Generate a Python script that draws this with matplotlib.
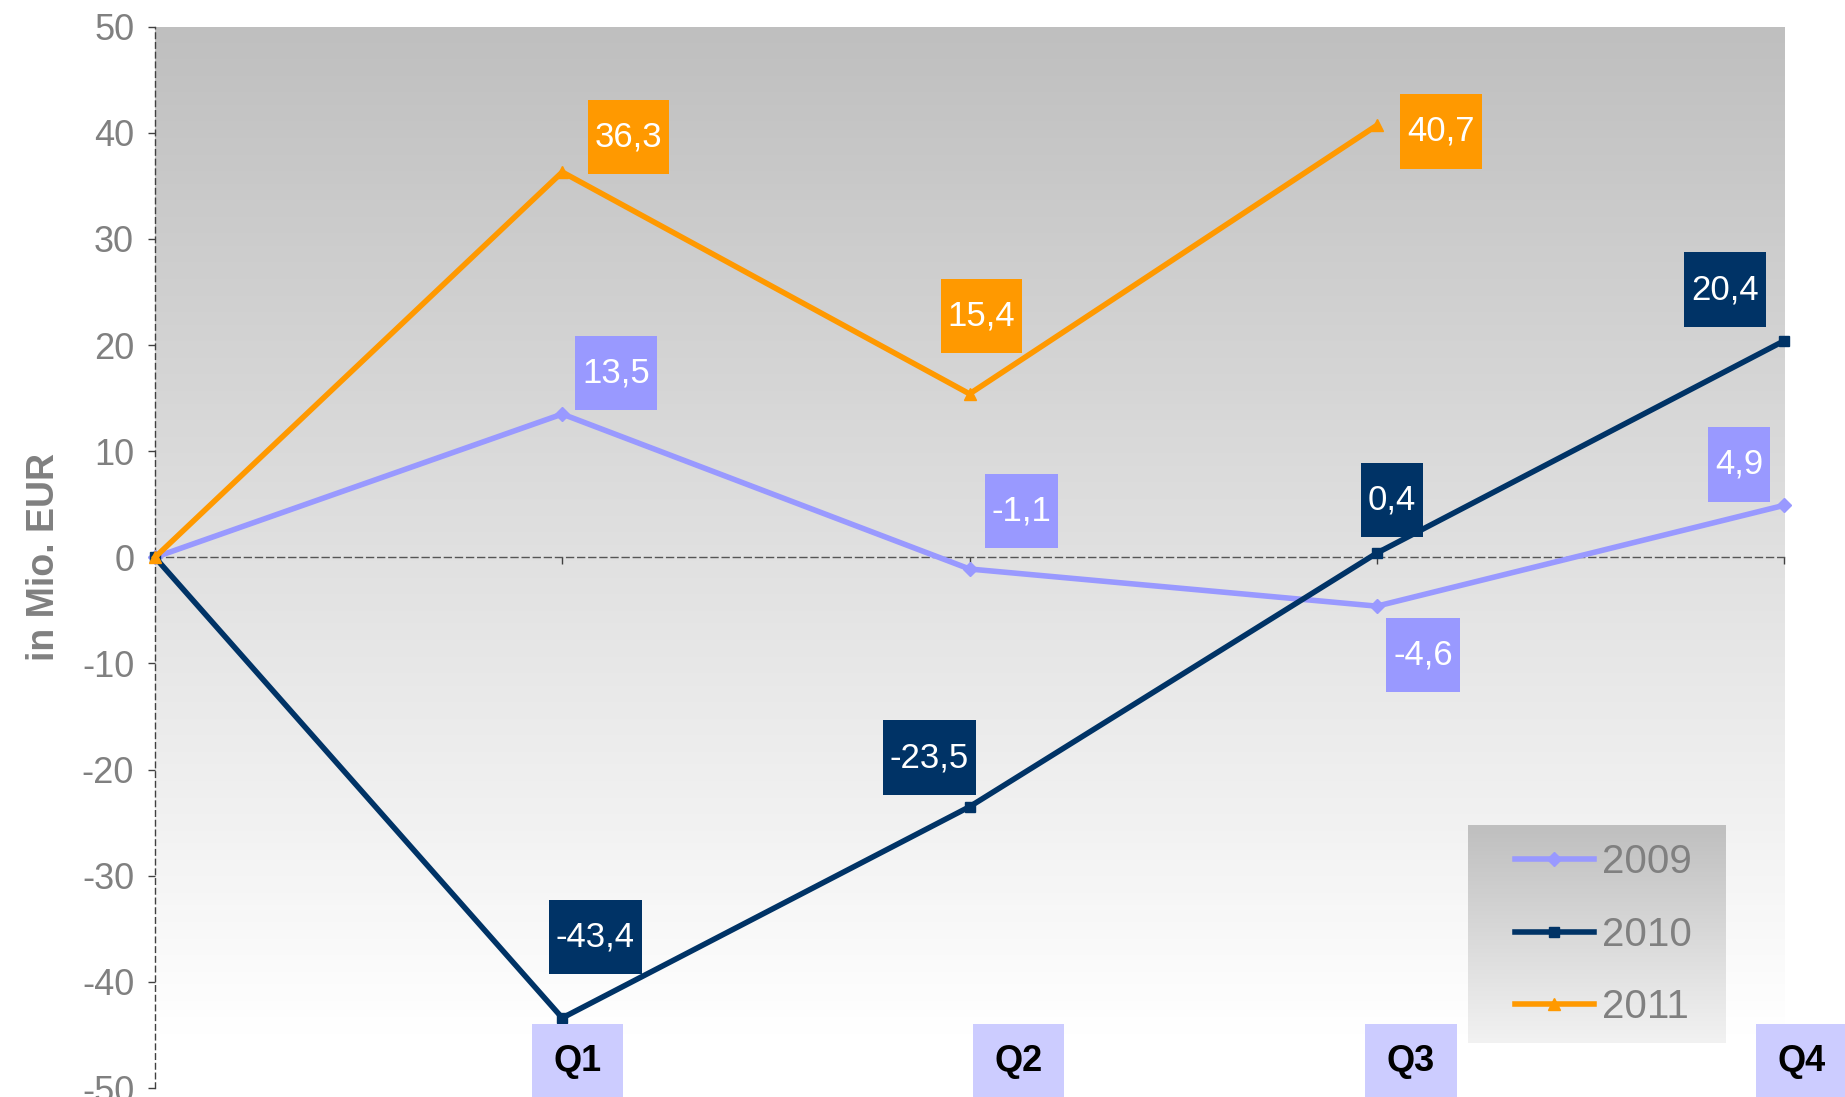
import numpy as np
import matplotlib
matplotlib.use('Agg')
import matplotlib.pyplot as plt
from matplotlib.colors import LinearSegmentedColormap
from matplotlib.path import Path

plt.rcParams['font.family'] = ['Liberation Sans', 'DejaVu Sans']
plt.rcParams['axes.unicode_minus'] = False

# data
quarters = ['Q1', 'Q2', 'Q3', 'Q4']
x_pos = [0, 1, 2, 3, 4]
years = ['2009', '2010', '2011']
v2009 = [0, 13.5, -1.1, -4.6, 4.9]
v2010 = [0, -43.4, -23.5, 0.4, 20.4]
v2011 = [0, 36.3, 15.4, 40.7]
yticks = [-50, -40, -30, -20, -10, 0, 10, 20, 30, 40, 50]

colors = {'2009': '#9999FF', '2010': '#003366', '2011': '#FF9900'}
markers = {'2009': 'D', '2010': 's', '2011': '^'}
msizes = {'2009': 7, '2010': 7, '2011': 8}

# label offsets (pixels) for each point, skip first (origin)
label_off = {
    '2009': [(54, 41), (52, 58), (46, -49), (-45, 41)],
    '2010': [(33, 81), (-40, 49), (15, 53), (-59, 51)],
    '2011': [(66, 35), (12, 78), (64, -6)],
}
tick_dx = [15, 49, 34, 18]


def label_box(x0, y0, width, height, mutation_size):
    px = 0.2 * mutation_size
    py = 0.6 * mutation_size
    x0, y0 = x0 - px, y0 - py
    x1, y1 = x0 + width + 2 * px, y0 + height + 2 * py
    return Path([(x0, y0), (x1, y0), (x1, y1), (x0, y1), (x0, y0)], closed=True)


def q_box(x0, y0, width, height, mutation_size):
    px = 0.6 * mutation_size
    py = 0.55 * mutation_size
    x0, y0 = x0 - px, y0 - py
    x1, y1 = x0 + width + 2 * px, y0 + height + 2 * py
    return Path([(x0, y0), (x1, y0), (x1, y1), (x0, y1), (x0, y0)], closed=True)


fig = plt.figure(figsize=(18.45, 10.97), dpi=100)
ax = fig.add_axes([0.084, 0.0082, 0.883, 0.9675])

# gradient background
cmap = LinearSegmentedColormap.from_list('bg', [(0, '#FFFFFF'), (0.05, '#FFFFFF'), (1, '#BFBFBF')])
grad = np.linspace(0, 1, 256).reshape(-1, 1)
ax.imshow(grad, extent=[0, 4, -50, 50], origin='lower', aspect='auto',
          cmap=cmap, vmin=0, vmax=1, zorder=0)

series = {'2009': v2009, '2010': v2010, '2011': v2011}
for yr in years:
    vals = series[yr]
    ax.plot(x_pos[:len(vals)], vals, color=colors[yr], lw=4,
            marker=markers[yr], ms=msizes[yr], label=yr, zorder=3, clip_on=False)
    for i, v in enumerate(vals[1:]):
        dx, dy = label_off[yr][i]
        ax.annotate(f'{v:.1f}'.replace('.', ','), (x_pos[i + 1], v),
                    xytext=(dx, dy), textcoords='offset pixels',
                    ha='center', va='center', color='white', fontsize=25,
                    bbox=dict(boxstyle=label_box, fc=colors[yr], ec='none'),
                    zorder=6)

ax.set_xlim(0, 4)
ax.set_ylim(-50, 50)

# axes styling
for s in ['top', 'right']:
    ax.spines[s].set_visible(False)
ax.spines['left'].set_linestyle((0, (4, 3)))
ax.spines['left'].set_linewidth(1)
ax.spines['left'].set_color('#404040')
ax.spines['bottom'].set_position(('data', 0))
ax.spines['bottom'].set_linestyle((0, (5, 3)))
ax.spines['bottom'].set_linewidth(1)
ax.spines['bottom'].set_color('#555555')
ax.spines['bottom'].set_zorder(2)

ax.set_yticks(yticks)
ax.set_yticklabels([str(t) for t in yticks])
ax.tick_params(axis='y', length=5, width=1, color='#404040',
               labelcolor='#808080', labelsize=26, pad=10)
ax.set_xticks([1, 2, 3, 4])
ax.set_xticklabels([])
ax.tick_params(axis='x', length=5, width=1, color='#404040', direction='out')

ax.set_ylabel('in Mio. EUR', fontsize=27, fontweight='bold', color='#808080', labelpad=14)

# quarter labels at the bottom
for i, q in enumerate(quarters):
    ax.annotate(q, (x_pos[i + 1], -50), xytext=(tick_dx[i], 27), textcoords='offset pixels',
                ha='center', va='center', fontsize=26, fontweight='bold', color='black',
                bbox=dict(boxstyle=q_box, fc='#CCCCFF', ec='none'),
                annotation_clip=False, zorder=6)

# legend with gradient background
lx0, lx1, ly0, ly1 = 0.806, 0.964, 0.042, 0.247
lcmap = LinearSegmentedColormap.from_list('lg', ['#F2F2F2', '#BFBFBF'])
ax.imshow(grad, extent=[lx0, lx1, ly0, ly1], origin='lower', aspect='auto',
          cmap=lcmap, transform=ax.transAxes, zorder=4, clip_on=False)
ax.set_xlim(0, 4)
ax.set_ylim(-50, 50)
leg = ax.legend(loc='center', bbox_to_anchor=((lx0 + lx1) / 2 + 0.004, (ly0 + ly1) / 2),
                frameon=False, fontsize=29, handlelength=1.95, handletextpad=0.2,
                labelspacing=0.85, borderpad=0)
for t in leg.get_texts():
    t.set_color('#808080')
leg.set_zorder(5)

fig.savefig('out.png', dpi=100)
